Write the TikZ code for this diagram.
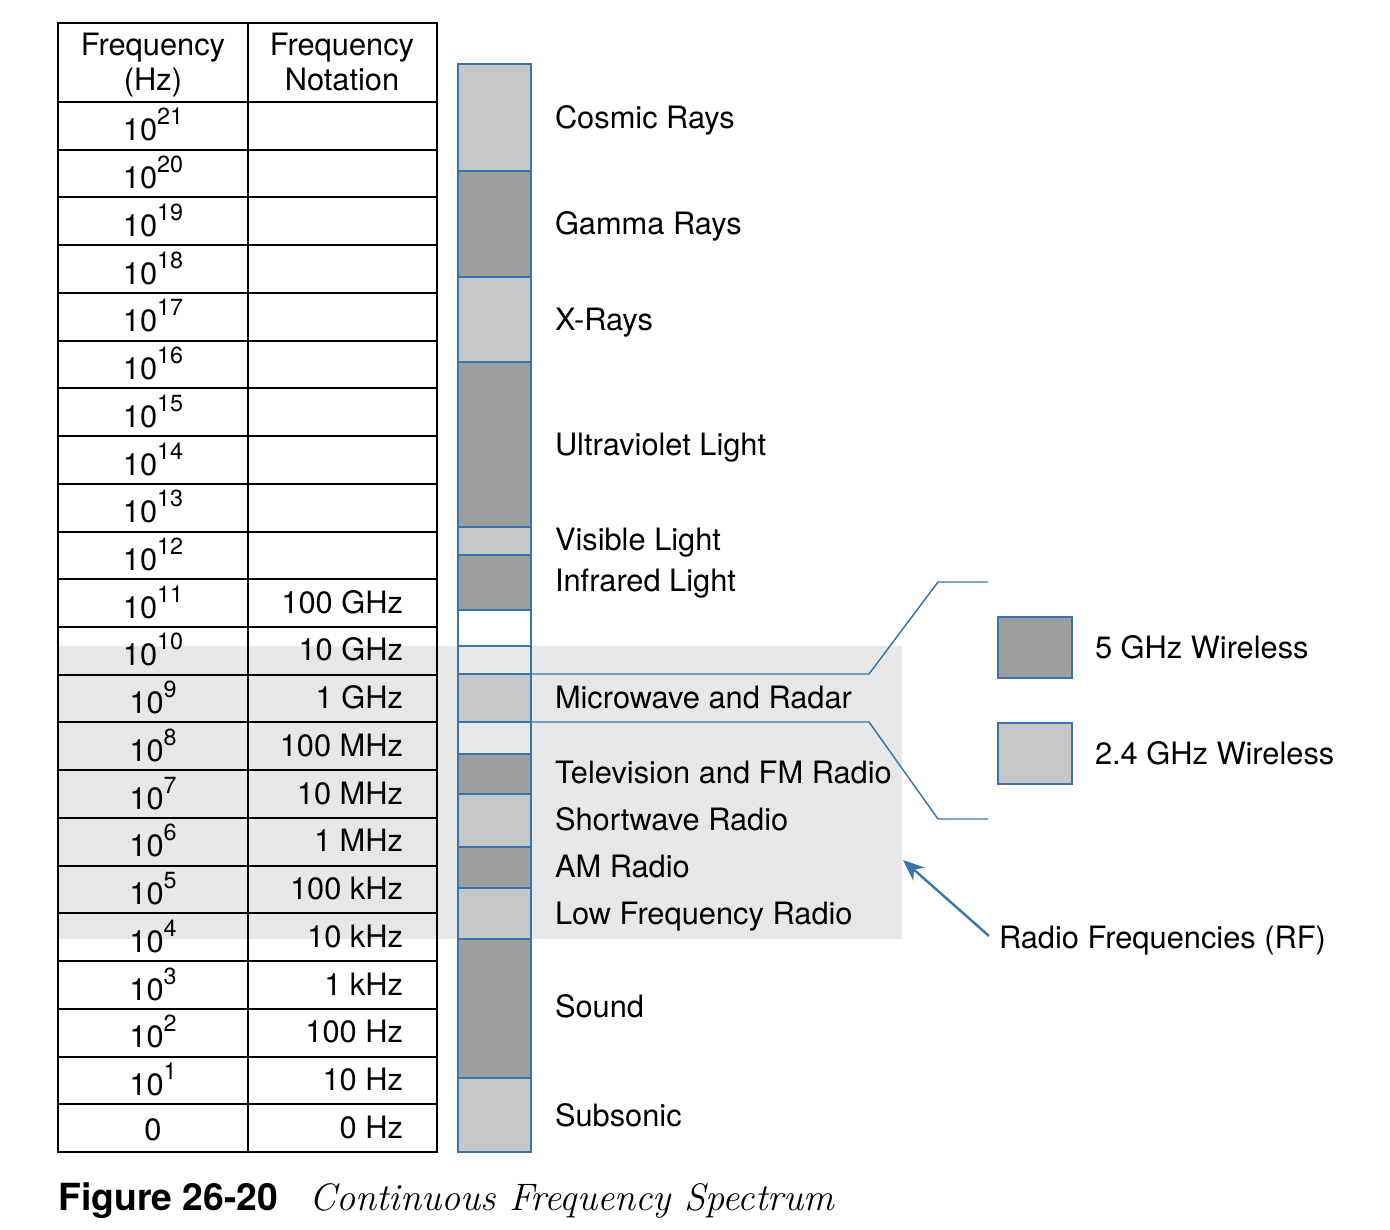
\documentclass[tikz,border=0pt]{standalone}
\usepackage{fontspec}
\setmainfont{TeX Gyre Heros}
\newfontfamily\capit{Latin Modern Roman}
\usetikzlibrary{arrows.meta}
\definecolor{lgray}{HTML}{C6C7C9}
\definecolor{dgray}{HTML}{9D9EA0}
\definecolor{rfbg}{HTML}{E6E7E9}
\definecolor{bblue}{HTML}{3A74AE}
\newcommand\supx[1]{\raisebox{12pt}{\fontsize{17.5}{17.5}\selectfont #1}}
\newcommand\mkseg[4]{%
  \pgfmathsetmacro\segh{(#3-#2)*0.75}%
  \node[segbox, fill=#4, minimum height=\segh pt] (#1) at (458,#2) {};}
\begin{document}
\begin{tikzpicture}[x=0.75pt,y=-0.75pt,
  txt/.style={inner sep=0pt, outer sep=0pt, font=\fontsize{23.1}{27}\selectfont},
  lbl/.style={txt, anchor=base west},
  ctr/.style={txt, anchor=base},
  rgt/.style={txt, anchor=base east},
  segbox/.style={draw=bblue, line width=1.9pt, minimum width=54.75pt, inner sep=0pt, outer sep=0pt, anchor=north west},
  tline/.style={line width=1.5pt, black},
  conn/.style={draw=bblue, line width=1.1pt},
  legbox/.style={draw=bblue, line width=1.9pt, minimum width=55.5pt, minimum height=45.75pt, inner sep=0pt, outer sep=0pt, anchor=north west}
]
\useasboundingbox (0,0) rectangle (1390,1230);
% RF background
\node[fill=rfbg, minimum width=633pt, minimum height=219.75pt, inner sep=0pt, outer sep=0pt, anchor=north west] (rf) at (58,646) {};
% table
\draw[tline] (58,23) rectangle (437,1152);
\draw[tline] (248,23) -- (248,1152);
\foreach \k in {0,...,21} \draw[tline] (58,{102+\k*47.727}) -- (437,{102+\k*47.727});
\node[ctr] (h1a) at (153,56) {Frequency};
\node[ctr] (h1b) at (153,91) {(Hz)};
\node[ctr] (h2a) at (342,56) {Frequency};
\node[ctr] (h2b) at (342,91) {Notation};
\foreach \e [count=\i from 0] in {21,20,19,18,17,16,15,14,13,12,11,10,9,8,7,6,5,4,3,2,1}
  \node[ctr] (e\i) at (153,{102+\i*47.727+39}) {10\supx{\e}};
\node[ctr] (e21) at (153,{102+21*47.727+36}) {0};
\foreach \t [count=\i from 10] in {100 GHz,10 GHz,1 GHz,100 MHz,10 MHz,1 MHz,100 kHz,10 kHz,1 kHz,100 Hz,10 Hz,0 Hz}
  \node[rgt] (n\i) at (403,{102+\i*47.727+34}) {\t};
% bar segments
\mkseg{cosmic}{64}{171}{lgray}
\mkseg{gamma}{171}{277}{dgray}
\mkseg{xray}{277}{362}{lgray}
\mkseg{uv}{362}{527}{dgray}
\mkseg{vis}{527}{555}{lgray}
\mkseg{ir}{555}{610}{dgray}
\mkseg{gapa}{610}{646}{white}
\mkseg{gapb}{646}{674}{none}
\mkseg{mw}{674}{722}{lgray}
\mkseg{gapc}{722}{754}{none}
\mkseg{tv}{754}{794}{dgray}
\mkseg{sw}{794}{847}{lgray}
\mkseg{am}{847}{888}{dgray}
\mkseg{lf}{888}{939}{lgray}
\mkseg{snd}{939}{1078}{dgray}
\mkseg{sub}{1078}{1152}{lgray}
% labels
\node[lbl] (lcos) at (555,129) {Cosmic Rays};
\node[lbl] (lgam) at (555,235) {Gamma Rays};
\node[lbl] (lxr) at (555,331) {X-Rays};
\node[lbl] (luv) at (555,456) {Ultraviolet Light};
\node[lbl] (lvis) at (555,551) {Visible Light};
\node[lbl] (lir) at (555,592) {Infrared Light};
\node[lbl] (lmw) at (555,708) {Microwave and Radar};
\node[lbl] (ltv) at (555,783) {Television and FM Radio};
\node[lbl] (lsw) at (555,830) {Shortwave Radio};
\node[lbl] (lam) at (555,877) {AM Radio};
\node[lbl] (llf) at (555,924) {Low Frequency Radio};
\node[lbl] (lsnd) at (555,1017) {Sound};
\node[lbl] (lsub) at (555,1126) {Subsonic};
% legend
\node[legbox, fill=dgray] (leg5) at (998,617) {};
\node[legbox, fill=lgray] (leg24) at (998,723) {};
\node[lbl] (t5) at (1095,658) {5 GHz Wireless};
\node[lbl] (t24) at (1095,764) {2.4 GHz Wireless};
% zoom connectors
\coordinate (ua) at (869,674);
\coordinate (ub) at (938,582);
\coordinate (uc) at (988,582);
\coordinate (da) at (869,722);
\coordinate (db) at (938,819);
\coordinate (dc) at (988,819);
\draw[conn] (mw.north east) -- (ua) -- (ub) -- (uc);
\draw[conn] (mw.south east) -- (da) -- (db) -- (dc);
% RF arrow
\node[lbl] (trf) at (999,948) {Radio Frequencies (RF)};
\coordinate (rftail) at (989,936);
\coordinate (rftip) at (903,860);
\draw[draw=bblue, line width=1.8pt, -{Stealth[length=16pt,width=13pt,inset=5pt]}, fill=bblue] (rftail) -- (rftip);
% caption
\node[inner sep=0pt, anchor=base west, font=\fontsize{28}{30}\selectfont\bfseries] (fig) at (58,1210) {Figure 26-20};
\node[inner sep=0pt, anchor=base west, font=\fontsize{28.7}{32}\selectfont\capit\itshape] (figt) at (309,1210) {Continuous Frequency Spectrum};
\end{tikzpicture}
\end{document}
